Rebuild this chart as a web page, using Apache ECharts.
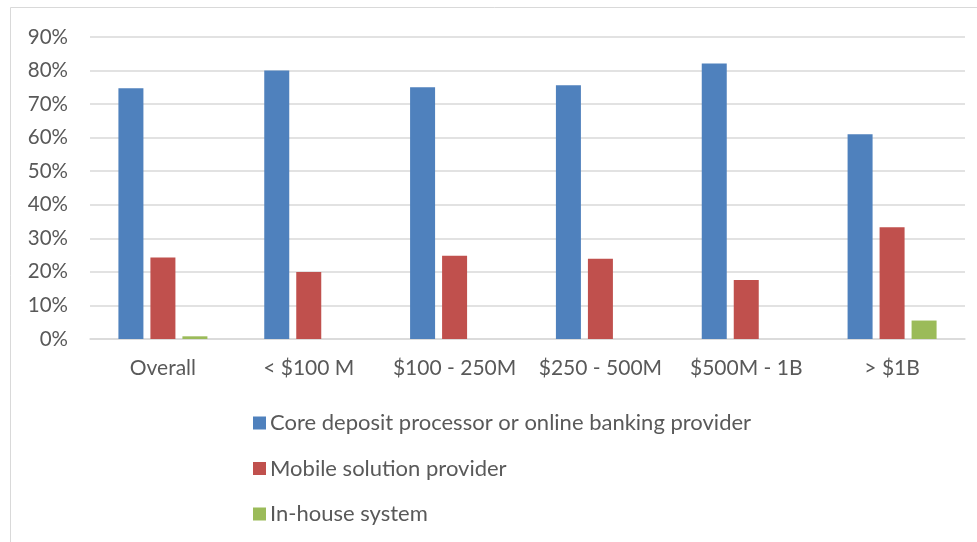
<!DOCTYPE html>
<html>
<head>
<meta charset="utf-8">
<script src="https://cdn.jsdelivr.net/npm/echarts@6/dist/echarts.min.js"></script>
<style>
html,body{margin:0;padding:0;background:#fff;}
#chart{width:977px;height:542px;}
</style>
</head>
<body>
<div id="chart"></div>
<script>
var categories = ['Overall', '< $100 M', '$100 - 250M', '$250 - 500M', '$500M - 1B', '> $1B'];
var seriesNames = ['Core deposit processor or online banking provider', 'Mobile solution provider', 'In-house system'];
var coreValues = [74.7, 80, 75, 75.6, 82.1, 61];
var mobileValues = [24.3, 20, 24.8, 23.9, 17.6, 33.3];
var inhouseValues = [0.8, 0, 0, 0, 0, 5.5];
var colors = ['#4f81bd', '#c0504d', '#9bbb59'];

var font = 'Lato, "Open Sans", sans-serif';
var chart = echarts.init(document.getElementById('chart'), null, {renderer: 'canvas'});
function mk(name, data, color) {
  return {
    name: name, type: 'bar', data: data, barWidth: 25, barGap: '28%',
    itemStyle: {color: color}
  };
}
chart.setOption({
  backgroundColor: '#fff',
  animation: false,
  graphic: [{
    type: 'rect', shape: {x: 10.5, y: 7.5, width: 1200, height: 1200},
    style: {fill: 'none', stroke: '#d9d9d9', lineWidth: 1}, silent: true, z: -1
  }],
  grid: {left: 90, right: 12, top: 37, bottom: 203, containLabel: false},
  legend: {
    orient: 'vertical', left: 248, top: 407,
    itemWidth: 13, itemHeight: 13, itemGap: 23.5,
    icon: 'rect',
    textStyle: {fontFamily: font, fontSize: 22, color: '#595959', padding: [0,0,0,-1]},
    data: seriesNames
  },
  xAxis: {
    type: 'category', data: categories,
    axisLine: {lineStyle: {color: '#d9d9d9', width: 1.5}},
    axisTick: {show: false},
    axisLabel: {fontFamily: font, fontSize: 21, color: '#595959', margin: 19, interval: 0}
  },
  yAxis: {
    type: 'value', min: 0, max: 90, interval: 10,
    axisLine: {show: false}, axisTick: {show: false},
    splitLine: {lineStyle: {color: '#d9d9d9', width: 1.5}},
    axisLabel: {fontFamily: font, fontSize: 20.5, color: '#595959', margin: 22, formatter: '{value}%'}
  },
  series: [
    mk(seriesNames[0], coreValues, colors[0]),
    mk(seriesNames[1], mobileValues, colors[1]),
    mk(seriesNames[2], inhouseValues, colors[2])
  ]
});
</script>
</body>
</html>
